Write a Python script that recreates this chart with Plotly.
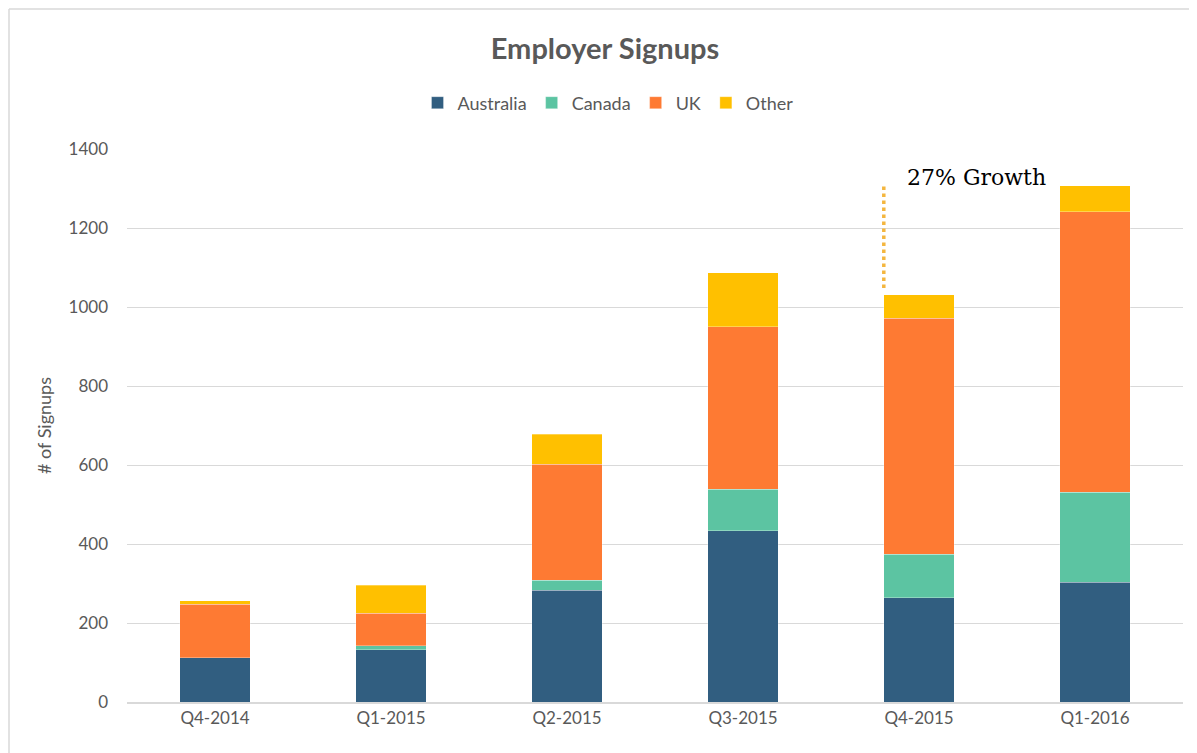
import plotly.graph_objects as go

# Quarterly employer signups by region
quarters = ["Q4-2014", "Q1-2015", "Q2-2015", "Q3-2015", "Q4-2015", "Q1-2016"]
australia = [112, 132, 283, 433, 264, 303]
canada = [0, 11, 25, 106, 110, 228]
uk = [135, 82, 294, 411, 597, 710]
other = [9, 70, 76, 137, 60, 66]

series = [
    ("Australia", australia, "#315E80"),
    ("Canada", canada, "#5CC4A2"),
    ("UK", uk, "#FE7A33"),
    ("Other", other, "#FFC000"),
]

totals = [a + c + u + o for a, c, u, o in zip(australia, canada, uk, other)]
growth = (totals[-1] - totals[-2]) / totals[-2] * 100

# the page body adds an 8px offset, so the figure is drawn 8px smaller
OFF = 8
W, H = 1197 - OFF, 753 - OFF
ML, MT = 127 - OFF, 149 - OFF
MR = W - (1183 - OFF)
MB = H - (702 - OFF)
PW, PH = W - ML - MR, H - MT - MB


def px_x(p):
    return (p - OFF - ML) / PW


def px_y(p):
    return 1 - (p - OFF - MT) / PH


fig = go.Figure()
for name, vals, color in series:
    fig.add_trace(go.Bar(
        x=quarters, y=vals, name=name,
        marker=dict(color=color, line=dict(color="rgba(255,255,255,0.5)", width=0.6)),
    ))

# dotted growth marker next to the Q4-2015 bar
fig.add_shape(
    type="line", xref="x", yref="y",
    x0=3.8, x1=3.8, y0=totals[-2] + 17, y1=totals[-1] - 2,
    line=dict(color="#F4B63F", width=3.5, dash="dot"),
)
fig.add_annotation(
    x=3.92, y=totals[-1] + 22, xref="x", yref="y",
    text=f"{growth:.0f}% Growth", showarrow=False,
    xanchor="left", yanchor="middle",
    font=dict(family="DejaVu Serif", size=22, color="#000000"),
)

# outer chart frame: only left and top edges are visible
frame = dict(color="#D9D9D9", width=1.5)
fig.add_shape(type="line", xref="paper", yref="paper", layer="below",
              x0=px_x(9), x1=px_x(9), y0=px_y(760), y1=px_y(9), line=frame)
fig.add_shape(type="line", xref="paper", yref="paper", layer="below",
              x0=px_x(9), x1=px_x(1200), y0=px_y(9), y1=px_y(9), line=frame)

fig.update_layout(
    barmode="stack",
    bargap=0.6,
    width=W, height=H,
    margin=dict(l=ML, r=MR, t=MT, b=MB),
    paper_bgcolor="white",
    plot_bgcolor="white",
    font=dict(family="Lato", size=17, color="#595959"),
    title=dict(
        text="<b>Employer Signups</b>", xref="container", x=(605 - OFF) / W, xanchor="center",
        yref="container", y=1 - (49 - OFF) / H, yanchor="middle",
        font=dict(family="Lato", size=29, color="#595959"),
    ),
    legend=dict(
        orientation="h", xref="container", x=(608 - OFF) / W, xanchor="center",
        yref="container", y=1 - (103 - OFF) / H, yanchor="middle",
        font=dict(size=18, color="#595959"), traceorder="normal",
        itemwidth=30,
    ),
    showlegend=True,
)
fig.update_xaxes(
    showgrid=False, showline=True, linecolor="#D9D9D9", linewidth=1.5,
    ticks="", tickfont=dict(size=17, color="#595959"),
)
fig.update_yaxes(
    range=[0, 1400], dtick=200, showgrid=True, gridcolor="#D9D9D9", gridwidth=1.3,
    zeroline=False, ticks="", ticklabelstandoff=18,
    tickfont=dict(size=17, color="#595959"),
    title=dict(text="# of Signups", font=dict(size=18, color="#595959"), standoff=12),
)

fig.write_html("out.html")
